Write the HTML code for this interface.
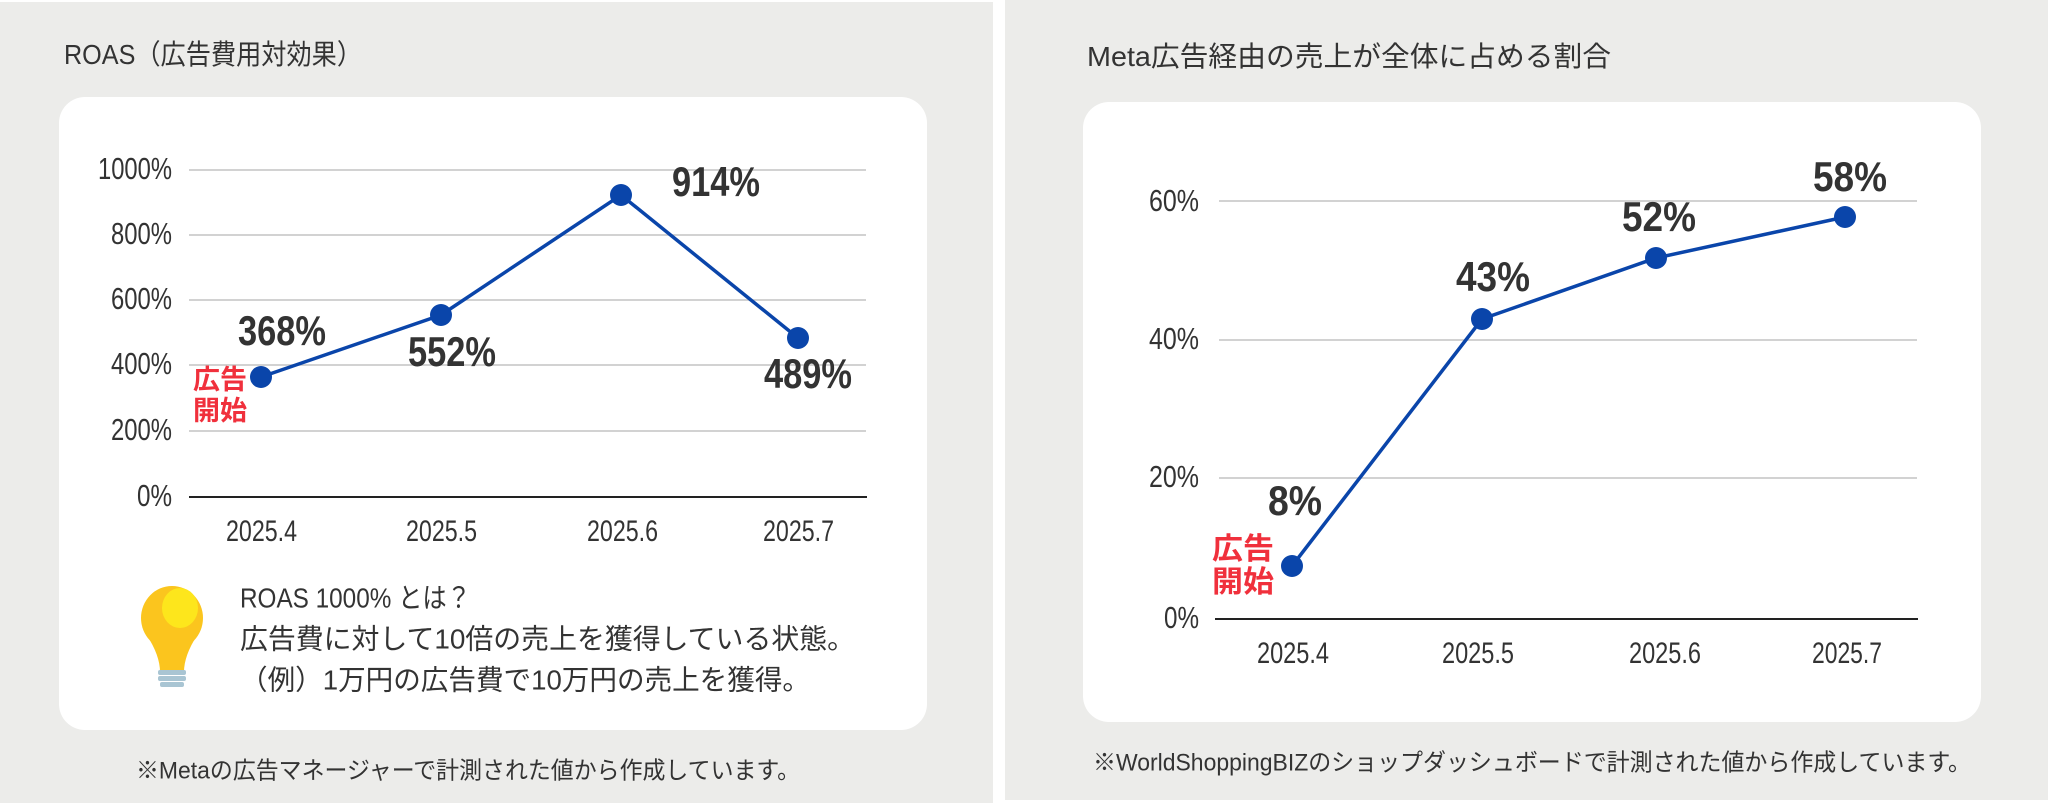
<!DOCTYPE html>
<html><head><meta charset="utf-8"><style>
html,body{margin:0;padding:0;background:#fff;}
svg{display:block;}
text{font-family:"Liberation Sans","Noto Sans CJK JP",sans-serif;}
.cjk{font-family:"Liberation Sans","Noto Sans CJK JP",sans-serif;}
</style></head><body>
<svg width="2048" height="803" viewBox="0 0 2048 803" xmlns="http://www.w3.org/2000/svg">
<rect x="0" y="0" width="2048" height="803" fill="#fff"/>
<rect x="0" y="2" width="993" height="801" fill="#ececea"/>
<rect x="1005" y="0" width="1043" height="800" fill="#ececea"/>

<!-- LEFT -->
<text x="64" y="64" font-size="28" fill="#333" class="cjk" textLength="298" lengthAdjust="spacingAndGlyphs">ROAS（広告費用対効果）</text>
<rect x="59" y="97" width="868" height="633" rx="26" fill="#fff"/>
<g stroke="#c4c4c4" stroke-width="1.5">
<line x1="189" y1="170" x2="866" y2="170"/>
<line x1="189" y1="235" x2="866" y2="235"/>
<line x1="189" y1="300" x2="866" y2="300"/>
<line x1="189" y1="365" x2="866" y2="365"/>
<line x1="189" y1="431" x2="866" y2="431"/>
</g>
<line x1="189" y1="497" x2="867" y2="497" stroke="#222" stroke-width="2"/>
<g font-size="31" fill="#333" dominant-baseline="middle" lengthAdjust="spacingAndGlyphs">
<text x="98" y="171" textLength="74" lengthAdjust="spacingAndGlyphs">1000%</text>
<text x="111" y="236" textLength="61" lengthAdjust="spacingAndGlyphs">800%</text>
<text x="111" y="301" textLength="61" lengthAdjust="spacingAndGlyphs">600%</text>
<text x="111" y="366" textLength="61" lengthAdjust="spacingAndGlyphs">400%</text>
<text x="111" y="432" textLength="61" lengthAdjust="spacingAndGlyphs">200%</text>
<text x="137" y="498" textLength="35" lengthAdjust="spacingAndGlyphs">0%</text>
</g>
<g font-size="30" fill="#333" dominant-baseline="middle">
<text x="226" y="533" textLength="71" lengthAdjust="spacingAndGlyphs">2025.4</text>
<text x="406" y="533" textLength="71" lengthAdjust="spacingAndGlyphs">2025.5</text>
<text x="587" y="533" textLength="71" lengthAdjust="spacingAndGlyphs">2025.6</text>
<text x="763" y="533" textLength="71" lengthAdjust="spacingAndGlyphs">2025.7</text>
</g>
<polyline points="261,377 441,315 621,195 798,338" fill="none" stroke="#0a45aa" stroke-width="3.5"/>
<g fill="#0a45aa"><circle cx="261" cy="377" r="11"/><circle cx="441" cy="315" r="11"/><circle cx="621" cy="195" r="11"/><circle cx="798" cy="338" r="11"/></g>
<g font-size="42" font-weight="bold" fill="#333" dominant-baseline="middle">
<text x="238" y="334" textLength="88" lengthAdjust="spacingAndGlyphs">368%</text>
<text x="408" y="355" textLength="88" lengthAdjust="spacingAndGlyphs">552%</text>
<text x="672" y="185" textLength="88" lengthAdjust="spacingAndGlyphs">914%</text>
<text x="764" y="377" textLength="88" lengthAdjust="spacingAndGlyphs">489%</text>
</g>
<g font-size="27" font-weight="bold" fill="#f0303c" class="cjk" dominant-baseline="middle">
<text x="193" y="382" textLength="54" lengthAdjust="spacingAndGlyphs">広告</text><text x="193" y="413" textLength="54" lengthAdjust="spacingAndGlyphs">開始</text>
</g>
<!-- bulb -->
<g>
<ellipse cx="172" cy="618" rx="31" ry="32" fill="#fbc51e"/>
<path d="M146,634 Q160,655 160,672 L184,672 Q184,655 198,634 Z" fill="#fbc51e"/>
<ellipse cx="180" cy="608" rx="18" ry="20" fill="#fde61c"/>
<rect x="158" y="670" width="28" height="5" rx="2" fill="#a9c5d3"/>
<rect x="158" y="676" width="28" height="5" rx="2" fill="#a9c5d3"/>
<rect x="160" y="682" width="24" height="5" rx="2" fill="#a9c5d3"/>
</g>
<g font-size="28" fill="#333" class="cjk" dominant-baseline="middle">
<text x="240" y="600" textLength="231" lengthAdjust="spacingAndGlyphs">ROAS 1000% とは？</text>
<text x="240" y="641" textLength="615" lengthAdjust="spacingAndGlyphs">広告費に対して10倍の売上を獲得している状態。</text>
<text x="240" y="682" textLength="570" lengthAdjust="spacingAndGlyphs">（例）1万円の広告費で10万円の売上を獲得。</text>
</g>
<text x="136" y="772" font-size="24" fill="#333" class="cjk" dominant-baseline="middle" textLength="664" lengthAdjust="spacingAndGlyphs">※Metaの広告マネージャーで計測された値から作成しています。</text>

<!-- RIGHT -->
<text x="1087" y="66" font-size="28" fill="#333" class="cjk" textLength="524" lengthAdjust="spacingAndGlyphs">Meta広告経由の売上が全体に占める割合</text>
<rect x="1083" y="102" width="898" height="620" rx="26" fill="#fff"/>
<g stroke="#c4c4c4" stroke-width="1.5">
<line x1="1219" y1="201" x2="1917" y2="201"/>
<line x1="1219" y1="340" x2="1917" y2="340"/>
<line x1="1219" y1="478" x2="1917" y2="478"/>
</g>
<line x1="1215" y1="619" x2="1918" y2="619" stroke="#222" stroke-width="2"/>
<g font-size="31" fill="#333" dominant-baseline="middle">
<text x="1149" y="203" textLength="50" lengthAdjust="spacingAndGlyphs">60%</text>
<text x="1149" y="341" textLength="50" lengthAdjust="spacingAndGlyphs">40%</text>
<text x="1149" y="479" textLength="50" lengthAdjust="spacingAndGlyphs">20%</text>
<text x="1164" y="620" textLength="35" lengthAdjust="spacingAndGlyphs">0%</text>
</g>
<g font-size="30" fill="#333" dominant-baseline="middle">
<text x="1257" y="655" textLength="72" lengthAdjust="spacingAndGlyphs">2025.4</text>
<text x="1442" y="655" textLength="72" lengthAdjust="spacingAndGlyphs">2025.5</text>
<text x="1629" y="655" textLength="72" lengthAdjust="spacingAndGlyphs">2025.6</text>
<text x="1812" y="655" textLength="70" lengthAdjust="spacingAndGlyphs">2025.7</text>
</g>
<polyline points="1292,566 1482,319 1656,258 1845,217" fill="none" stroke="#0a45aa" stroke-width="3.5"/>
<g fill="#0a45aa"><circle cx="1292" cy="566" r="11"/><circle cx="1482" cy="319" r="11"/><circle cx="1656" cy="258" r="11"/><circle cx="1845" cy="217" r="11"/></g>
<g font-size="42" font-weight="bold" fill="#333" dominant-baseline="middle">
<text x="1268" y="504" textLength="54" lengthAdjust="spacingAndGlyphs">8%</text>
<text x="1456" y="280" textLength="74" lengthAdjust="spacingAndGlyphs">43%</text>
<text x="1622" y="220" textLength="74" lengthAdjust="spacingAndGlyphs">52%</text>
<text x="1813" y="180" textLength="74" lengthAdjust="spacingAndGlyphs">58%</text>
</g>
<g font-size="30" font-weight="bold" fill="#f0303c" class="cjk" dominant-baseline="middle">
<text x="1212" y="551" textLength="62" lengthAdjust="spacingAndGlyphs">広告</text><text x="1212" y="584" textLength="62" lengthAdjust="spacingAndGlyphs">開始</text>
</g>
<text x="1093" y="764" font-size="24" fill="#333" class="cjk" dominant-baseline="middle" textLength="878" lengthAdjust="spacingAndGlyphs">※WorldShoppingBIZのショップダッシュボードで計測された値から作成しています。</text>
</svg>
</body></html>
